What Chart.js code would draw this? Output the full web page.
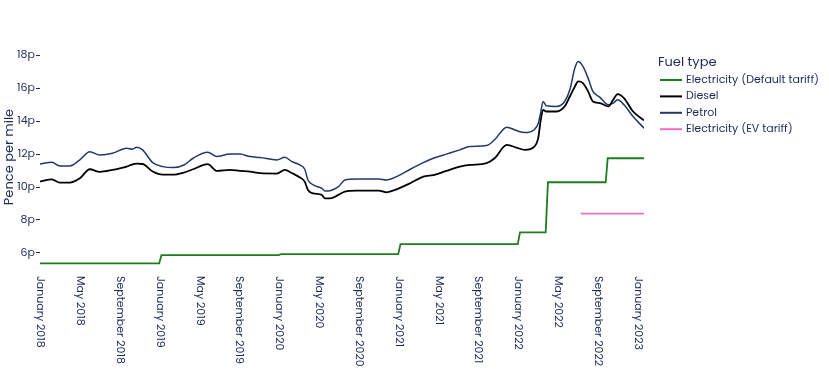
<!DOCTYPE html>
<html>
<head>
<meta charset="utf-8">
<script src="https://cdn.jsdelivr.net/npm/chart.js@4.4.0/dist/chart.umd.min.js"></script>
<style>
  html, body { margin: 0; padding: 0; background: #fff; }
  #wrap { width: 829px; height: 386px; }
</style>
</head>
<body>
<div id="wrap"><canvas id="chart-1"></canvas></div>
<script>
// weekly-ish readings, pence per mile
const dates = ["2018-01-01","2018-02-06","2018-03-01","2018-04-01","2018-05-01","2018-06-01","2018-07-01","2018-08-10",
  "2018-09-22","2018-10-10","2018-10-23","2018-11-10","2018-12-11","2019-01-11","2019-02-11","2019-03-15","2019-04-12",
  "2019-05-27","2019-06-24","2019-08-03","2019-09-03","2019-10-04","2019-11-04","2019-12-25","2020-01-19","2020-02-10",
  "2020-03-04","2020-03-19","2020-03-29","2020-04-14","2020-05-10","2020-05-20","2020-06-05","2020-06-30","2020-07-20",
  "2020-08-25","2020-11-01","2020-11-25","2020-12-26","2021-02-06","2021-03-16","2021-04-16","2021-05-26","2021-07-06",
  "2021-08-06","2021-09-26","2021-10-21","2021-11-27","2021-12-27","2022-01-22","2022-02-19","2022-03-02","2022-03-09",
  "2022-03-17","2022-03-27","2022-04-27","2022-05-22","2022-06-07","2022-06-22","2022-07-02","2022-07-17","2022-08-02",
  "2022-08-17","2022-09-08","2022-10-03","2022-10-18","2022-11-01","2022-11-20","2022-12-18","2023-01-21"];
const petrol = [11.40,11.50,11.28,11.28,11.65,12.15,11.95,12.05,12.36,12.30,12.42,12.26,11.48,11.24,11.18,11.34,11.75,
  12.11,11.85,12.01,12.00,11.85,11.79,11.65,11.81,11.54,11.34,11.08,10.43,10.13,9.92,9.76,9.78,10.02,10.43,
  10.49,10.49,10.43,10.63,11.08,11.48,11.75,12.00,12.26,12.46,12.52,12.87,13.64,13.43,13.31,13.50,13.88,14.49,
  15.20,14.94,14.90,15.20,15.91,17.23,17.63,17.33,16.62,15.81,15.45,15.00,15.10,15.30,15.00,14.28,13.58];
const diesel = [10.33,10.47,10.27,10.27,10.53,11.08,10.92,11.04,11.24,11.38,11.42,11.40,10.94,10.75,10.75,10.88,11.08,
  11.39,10.98,11.04,10.98,10.94,10.84,10.82,11.04,10.84,10.58,10.33,9.82,9.62,9.52,9.31,9.31,9.52,9.72,
  9.78,9.78,9.68,9.86,10.23,10.63,10.73,10.98,11.24,11.34,11.45,11.75,12.56,12.40,12.26,12.46,13.00,14.00,
  14.69,14.59,14.59,14.90,15.50,16.10,16.42,16.32,15.81,15.20,15.10,14.90,15.30,15.65,15.41,14.59,14.05];

const elecDates = ["2018-01-01","2018-12-31","2019-01-07","2019-12-31","2020-01-07","2020-12-31","2021-01-07",
  "2021-12-31","2022-01-07","2022-03-25","2022-04-01","2022-09-25","2022-10-01","2023-01-21"];
const elecDefault = [5.36,5.36,5.86,5.86,5.92,5.92,6.53,6.53,7.24,7.24,10.29,10.29,11.75,11.75];

const evDates = ["2022-07-10","2023-01-21"];
const evTariff = [8.38,8.38];

const tickDates = ["2018-01-01","2018-05-01","2018-09-01","2019-01-01","2019-05-01","2019-09-01","2020-01-01",
  "2020-05-01","2020-09-01","2021-01-01","2021-05-01","2021-09-01","2022-01-01","2022-05-01","2022-09-01","2023-01-01"];
const tickLabels = ["January 2018","May 2018","September 2018","January 2019","May 2019","September 2019","January 2020",
  "May 2020","September 2020","January 2021","May 2021","September 2021","January 2022","May 2022","September 2022","January 2023"];
const yTicks = [6, 8, 10, 12, 14, 16, 18];

const textColor = "#1d2b59";
const fontFamily = "Poppins, Lato, sans-serif";

function toMonth(s) {
  const [y, m, d] = s.split("-").map(Number);
  const days = new Date(y, m, 0).getDate();
  return (y - 2018) * 12 + (m - 1) + (d - 1) / days;
}
function pts(ds, vs) {
  return ds.map((d, i) => ({ x: toMonth(d), y: vs[i] }));
}

const rotatedTicks = {
  id: "rotatedTicks",
  afterDraw(chart) {
    const ctx = chart.ctx;
    const xs = chart.scales.x;
    ctx.save();
    ctx.fillStyle = textColor;
    ctx.font = "11px " + fontFamily;
    ctx.textAlign = "left";
    ctx.textBaseline = "middle";
    tickDates.forEach((d, i) => {
      const x = xs.getPixelForValue(toMonth(d));
      ctx.save();
      ctx.translate(x, chart.chartArea.bottom + 10);
      ctx.rotate(Math.PI / 2);
      ctx.fillText(tickLabels[i], 0, 0);
      ctx.restore();
    });

    // legend
    const lx = chart.chartArea.right + 14;
    ctx.font = "13px " + fontFamily;
    ctx.fillText("Fuel type", lx, 63);
    ctx.font = "11px " + fontFamily;
    chart.data.datasets.forEach((ds, i) => {
      const y = 80 + i * 16.4;
      ctx.strokeStyle = ds.borderColor;
      ctx.lineWidth = 2;
      ctx.beginPath();
      ctx.moveTo(lx + 2, y);
      ctx.lineTo(lx + 24, y);
      ctx.stroke();
      ctx.fillText(ds.label, lx + 28, y);
    });
    ctx.restore();
  }
};

const ctx1 = document.getElementById("chart-1").getContext("2d");
const myChart = new Chart(ctx1, {
  type: "line",
  data: {
    datasets: [
      {
        label: "Electricity (Default tariff)",
        data: pts(elecDates, elecDefault),
        borderColor: "#1e7d1e",
        borderWidth: 1.8,
        tension: 0,
      },
      {
        label: "Diesel",
        data: pts(dates, diesel),
        borderColor: "#000000",
        borderWidth: 1.8,
        cubicInterpolationMode: "monotone",
      },
      {
        label: "Petrol",
        data: pts(dates, petrol),
        borderColor: "#22386b",
        borderWidth: 1.5,
        cubicInterpolationMode: "monotone",
      },
      {
        label: "Electricity (EV tariff)",
        data: pts(evDates, evTariff),
        borderColor: "#ee6fc3",
        borderWidth: 1.8,
        tension: 0,
      },
    ],
  },
  options: {
    responsive: true,
    maintainAspectRatio: false,
    animation: false,
    elements: { point: { radius: 0 } },
    layout: { padding: { top: 48, right: 185, left: 0, bottom: 0 } },
    plugins: {
      legend: { display: false },
      tooltip: { enabled: false },
    },
    scales: {
      x: {
        type: "linear",
        min: 0,
        max: toMonth(dates[dates.length - 1]),
        grid: { display: false },
        border: { display: false },
        ticks: { display: false },
        afterFit(scale) { scale.height = 120; },
      },
      y: {
        min: 5.2,
        max: 18.45,
        afterBuildTicks(scale) { scale.ticks = yTicks.map(v => ({ value: v })); },
        afterFit(scale) { scale.width = 40; },
        grid: { drawOnChartArea: false, drawTicks: true, tickLength: 4, color: textColor, lineWidth: 1 },
        border: { display: false },
        ticks: {
          color: textColor,
          padding: 1,
          font: { family: fontFamily, size: 11 },
          callback: v => v + "p",
        },
        title: {
          display: true,
          text: "Pence per mile",
          color: textColor,
          padding: 2,
          font: { family: fontFamily, size: 13 },
        },
      },
    },
  },
  plugins: [rotatedTicks],
});
</script>
</body>
</html>
